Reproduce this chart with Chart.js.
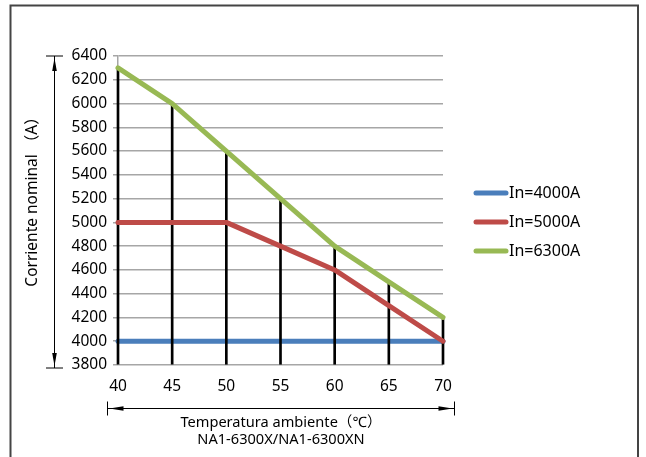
<!DOCTYPE html>
<html>
<head>
<meta charset="utf-8">
<script src="https://cdn.jsdelivr.net/npm/chart.js@4/dist/chart.umd.min.js"></script>
<style>
html,body{margin:0;padding:0;background:#fff;}
canvas{display:block;}
</style>
</head>
<body>
<canvas id="c" width="646" height="457"></canvas>
<script>
const temperatures = ['40','45','50','55','60','65','70'];
const in4000 = [4000,4000,4000,4000,4000,4000,4000];
const in5000 = [5000,5000,5000,4800,4600,4300,4000];
const in6300 = [6300,6000,5600,5200,4800,4500,4200];
const seriesNames = ['In=4000A','In=5000A','In=6300A'];
const yMin = 3800, yMax = 6400, yStep = 200;
const yTitle = 'Corriente nominal （A）';
const xTitle1 = 'Temperatura ambiente（℃）';
const xTitle2 = 'NA1-6300X/NA1-6300XN';

const FONT = '"Noto Sans", "Noto Sans CJK SC", sans-serif';

function arrow(ctx, tipX, tipY, dx, dy, len, half){
  const bx = tipX - dx*len, by = tipY - dy*len;
  const px = -dy, py = dx;
  ctx.beginPath();
  ctx.moveTo(tipX, tipY);
  ctx.lineTo(bx + px*half, by + py*half);
  ctx.lineTo(bx - px*half, by - py*half);
  ctx.closePath();
  ctx.fill();
}

const decor = {
  id: 'decor',
  beforeDraw(chart){
    const ctx = chart.ctx;
    ctx.save();
    ctx.fillStyle = '#fff';
    ctx.fillRect(0,0,chart.width,chart.height);
    ctx.restore();
  },
  afterDraw(chart){
    const ctx = chart.ctx;
    const ca = chart.chartArea;
    const ys = chart.scales.y;
    ctx.save();
    ctx.strokeStyle = '#444';
    ctx.lineWidth = 2;
    ctx.strokeRect(10.5, 5.5, 627.5, 470);

    ctx.strokeStyle = '#000';
    ctx.fillStyle = '#000';
    ctx.lineWidth = 1;
    const yt = ys.getPixelForValue(yMax), yb = ys.getPixelForValue(yMin) + 3;
    const ax = 54.5;
    ctx.beginPath();
    ctx.moveTo(ax, yt); ctx.lineTo(ax, yb);
    ctx.moveTo(46, yt); ctx.lineTo(63, yt);
    ctx.moveTo(46, yb); ctx.lineTo(63, yb);
    ctx.stroke();
    arrow(ctx, ax, yt+2, 0, -1, 13, 2.3);
    arrow(ctx, ax, yb-2, 0, 1, 13, 2.3);

    const xl = ca.left - 10.5, xr = ca.right + 11.5, yy = 408.5;
    ctx.beginPath();
    ctx.moveTo(xl, yy); ctx.lineTo(xr, yy);
    ctx.moveTo(xl, yy-7); ctx.lineTo(xl, yy+7);
    ctx.moveTo(xr, yy-7); ctx.lineTo(xr, yy+7);
    ctx.stroke();
    arrow(ctx, xl+2, yy, -1, 0, 14, 2.3);
    arrow(ctx, xr-2, yy, 1, 0, 14, 2.3);

    ctx.textAlign = 'center';
    ctx.textBaseline = 'middle';
    ctx.fillStyle = '#000';
    ctx.font = '14.6px ' + FONT;
    ctx.fillText(xTitle1, 281, 423);
    ctx.fillText(xTitle2, 281, 440);
    ctx.save();
    ctx.translate(33, 198);
    ctx.rotate(-Math.PI/2);
    ctx.font = '15.5px ' + FONT;
    ctx.fillText(yTitle, 0, 0);
    ctx.restore();

    const lineDs = chart.data.datasets.filter(d => d.type !== 'bar');
    const ly0 = 193, lstep = 29, lx0 = 476, lx1 = 506;
    ctx.font = '16px ' + FONT;
    ctx.textAlign = 'left';
    lineDs.forEach((d, i) => {
      const y = ly0 + i*lstep;
      ctx.strokeStyle = d.borderColor;
      ctx.lineWidth = 5;
      ctx.lineCap = 'round';
      ctx.beginPath();
      ctx.moveTo(lx0, y); ctx.lineTo(lx1, y);
      ctx.stroke();
      ctx.fillStyle = '#000';
      ctx.fillText(d.label, 509, y);
    });
    ctx.restore();
  }
};

const lineCommon = {
  type: 'line',
  borderWidth: 5,
  pointRadius: 0,
  pointHoverRadius: 0,
  tension: 0,
  fill: false,
  borderCapStyle: 'round',
  borderJoinStyle: 'round',
  clip: false
};

new Chart(document.getElementById('c'), {
  type: 'line',
  data: {
    labels: temperatures,
    datasets: [
      Object.assign({}, lineCommon, {label: seriesNames[0], data: in4000, borderColor: '#4A7EBB', order: 4}),
      Object.assign({}, lineCommon, {label: seriesNames[1], data: in5000, borderColor: '#BE4B48', order: 2}),
      {type: 'bar', label: 'drop', data: in6300, base: yMin, backgroundColor: '#000', barThickness: 2, order: 3, clip: 2},
      Object.assign({}, lineCommon, {label: seriesNames[2], data: in6300, borderColor: '#98B954', order: 1})
    ]
  },
  options: {
    responsive: false,
    animation: false,
    events: [],
    layout: { padding: { left: 58, top: 56, right: 203, bottom: 62 } },
    plugins: { legend: { display: false }, tooltip: { enabled: false }, title: { display: false } },
    scales: {
      x: {
        type: 'category',
        offset: false,
        grid: { display: false, drawTicks: false },
        border: { display: false },
        ticks: { color: '#000', font: { family: FONT, size: 15.5 }, padding: 12, maxRotation: 0 },
        afterFit(s){ s.height = 30; }
      },
      y: {
        min: yMin, max: yMax,
        grid: { color: '#A6A6A6', lineWidth: 1.5, tickLength: 5, drawTicks: true },
        border: { display: true, color: '#A6A6A6', width: 1.5 },
        ticks: { stepSize: yStep, color: '#000', font: { family: FONT, size: 15.5 }, padding: 6, callback: v => String(v) },
        afterFit(s){ s.width = 60; }
      }
    }
  },
  plugins: [decor]
});
</script>
</body>
</html>
